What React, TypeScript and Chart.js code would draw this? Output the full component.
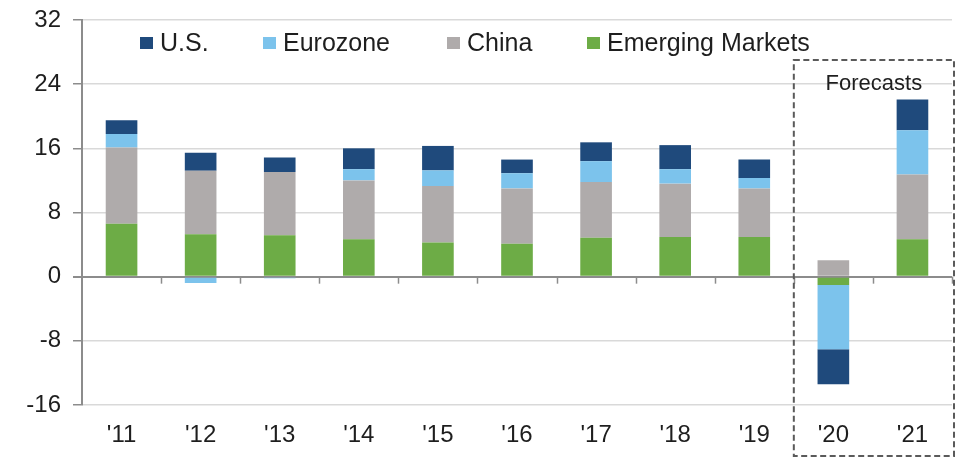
import React, { useEffect, useRef } from "react";
import { Chart, registerables } from "chart.js";

Chart.register(...registerables);

const years = ["'11", "'12", "'13", "'14", "'15", "'16", "'17", "'18", "'19", "'20", "'21"];
const emergingMarkets = [6.6, 5.3, 5.15, 4.65, 4.25, 4.1, 4.85, 4.95, 4.95, -1.05, 4.65];
const china = [9.5, 7.9, 7.9, 7.35, 7.05, 6.9, 6.95, 6.65, 6.05, 2.05, 8.1];
const eurozone = [1.7, -0.8, -0.2, 1.4, 1.95, 1.9, 2.6, 1.8, 1.3, -8.0, 5.5];
const us = [1.7, 2.25, 1.8, 2.6, 3.05, 1.7, 2.35, 3.0, 2.3, -4.35, 3.85];
const yTicks = [-16, -8, 0, 8, 16, 24, 32];
const forecastLabel = "Forecasts";
const forecastStartIndex = 9;

const COLORS = {
  us: "#1f4a7c",
  euro: "#7cc3ec",
  china: "#afabab",
  em: "#6dac46",
};
const FONT = "'Liberation Sans', Arial, Helvetica, sans-serif";
const TEXT = "#1e1e1e";
const AXIS = "#8c8c8c";

const legendItems = [
  { label: "U.S.", color: COLORS.us, x: 140 },
  { label: "Eurozone", color: COLORS.euro, x: 263 },
  { label: "China", color: COLORS.china, x: 447 },
  { label: "Emerging Markets", color: COLORS.em, x: 587 },
];

const overlayPlugin = {
  id: "overlay",
  afterDraw(chart: any) {
    const { ctx, chartArea, scales } = chart;
    const y = scales.y;
    const n = years.length;
    const step = (chartArea.right - chartArea.left) / n;
    const zeroY = y.getPixelForValue(0);

    ctx.save();
    // category boundary ticks on the zero line
    ctx.strokeStyle = AXIS;
    ctx.lineWidth = 1.5;
    for (let i = 1; i <= n; i++) {
      const px = Math.round(chartArea.left + i * step) + 0.5;
      ctx.beginPath();
      ctx.moveTo(px, zeroY);
      ctx.lineTo(px, zeroY + 7);
      ctx.stroke();
    }

    // legend
    ctx.font = `25px ${FONT}`;
    ctx.textBaseline = "middle";
    ctx.textAlign = "left";
    legendItems.forEach((it) => {
      ctx.fillStyle = it.color;
      ctx.fillRect(it.x, 37, 13, 12);
      ctx.fillStyle = TEXT;
      ctx.fillText(it.label, it.x + 20, 44);
    });

    // forecast dashed box
    const left = chartArea.left + forecastStartIndex * step;
    const right = chartArea.right + 2;
    const top = chartArea.top + 40;
    const bottom = chart.height - 2;
    ctx.setLineDash([6, 3.5]);
    ctx.strokeStyle = "#5a5a5a";
    ctx.lineWidth = 2;
    ctx.strokeRect(left, top, right - left, bottom - top);
    ctx.setLineDash([]);
    ctx.font = `22px ${FONT}`;
    ctx.textAlign = "center";
    ctx.fillStyle = TEXT;
    ctx.fillText(forecastLabel, (left + right) / 2, top + 24);
    ctx.restore();
  },
};

export default function App() {
  const ref = useRef<HTMLCanvasElement | null>(null);

  useEffect(() => {
    if (!ref.current) return;
    const chart = new Chart(ref.current, {
      type: "bar",
      data: {
        labels: years,
        datasets: [
          { label: "Emerging Markets", data: emergingMarkets, backgroundColor: COLORS.em },
          { label: "China", data: china, backgroundColor: COLORS.china },
          { label: "Eurozone", data: eurozone, backgroundColor: COLORS.euro },
          { label: "U.S.", data: us, backgroundColor: COLORS.us },
        ],
      },
      options: {
        responsive: false,
        animation: false,
        layout: { padding: { top: 20, right: 8, left: 0, bottom: 0 } },
        datasets: {
          bar: { categoryPercentage: 1, barPercentage: 0.4, borderWidth: 0 },
        },
        plugins: {
          legend: { display: false },
          tooltip: { enabled: false },
          title: { display: false },
        },
        scales: {
          x: {
            stacked: true,
            grid: { display: false },
            border: { display: false },
            ticks: {
              color: TEXT,
              font: { family: FONT, size: 24 },
              padding: 8,
              maxRotation: 0,
            },
            afterFit: (s: any) => {
              s.height = 53;
              s.paddingLeft = 0;
              s.paddingRight = 0;
            },
          },
          y: {
            stacked: true,
            min: -16,
            max: 32,
            afterBuildTicks: (s: any) => {
              s.ticks = yTicks.map((v) => ({ value: v }));
            },
            ticks: {
              color: TEXT,
              font: { family: FONT, size: 24 },
              padding: 12,
            },
            grid: {
              color: (c: any) => (c.tick && c.tick.value === 0 ? AXIS : "#d9d9d9"),
              lineWidth: (c: any) => (c.tick && c.tick.value === 0 ? 2 : 1.5),
              tickColor: AXIS,
              tickLength: 9,
            },
            border: { color: AXIS, width: 2 },
            afterFit: (s: any) => {
              s.width = 82;
              s.paddingTop = 0;
              s.paddingBottom = 0;
            },
          },
        },
      },
      plugins: [overlayPlugin],
    });
    return () => chart.destroy();
  }, []);

  return (
    <div style={{ position: "fixed", left: 0, top: 0, width: 960, height: 458, background: "#fff" }}>
      <canvas ref={ref} width={960} height={458} style={{ width: 960, height: 458 }} />
    </div>
  );
}
